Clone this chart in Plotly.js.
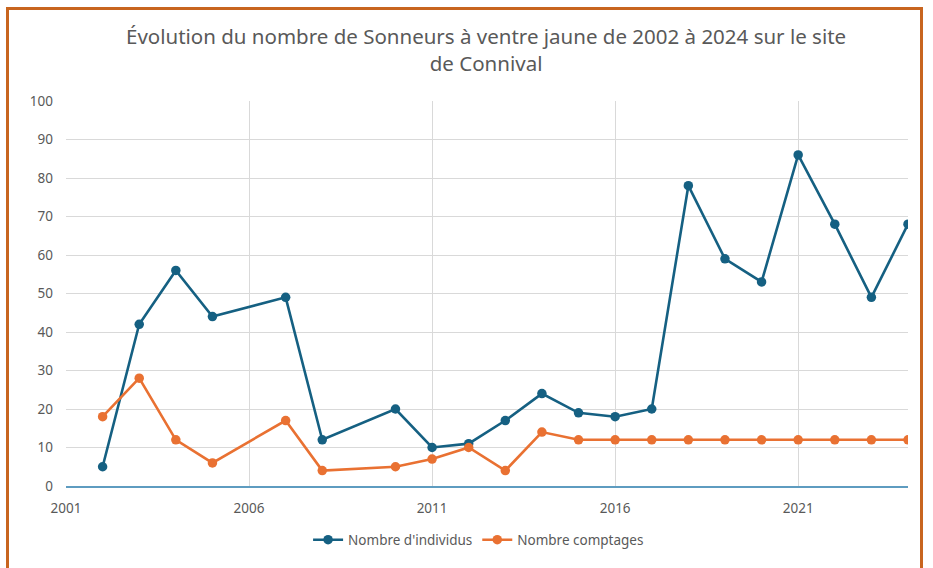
<!DOCTYPE html>
<html>
<head>
<meta charset="utf-8">
<script src="https://cdn.plot.ly/plotly-3.0.1.min.js"></script>
<style>
  html, body { margin: 0; padding: 0; background: #ffffff; }
  #wrap { position: relative; width: 933px; height: 568px; overflow: hidden; }
  #chart { position: absolute; left: 0; top: 0; width: 933px; height: 568px; }
  #frame { position: absolute; left: 6px; top: 7px; width: 917px; height: 600px;
           border: 3px solid #C8651F; pointer-events: none; box-sizing: border-box; }
</style>
</head>
<body>
<div id="wrap">
  <div id="chart"></div>
  <div id="frame"></div>
</div>
<script>
// Years of survey
const years = [2002, 2003, 2004, 2005, 2007, 2008, 2010, 2011, 2012, 2013, 2014,
               2015, 2016, 2017, 2018, 2019, 2020, 2021, 2022, 2023, 2024];
// Nombre d'individus
const individus = [5, 42, 56, 44, 49, 12, 20, 10, 11, 17, 24,
                   19, 18, 20, 78, 59, 53, 86, 68, 49, 68];
// Nombre comptages
const comptages = [18, 28, 12, 6, 17, 4, 5, 7, 10, 4, 14,
                   12, 12, 12, 12, 12, 12, 12, 12, 12, 12];
const seriesNames = ["Nombre d'individus", "Nombre comptages"];
const titleText = "Évolution du nombre de Sonneurs à ventre jaune de 2002 à 2024 sur le site<br>de Connival";

const blue = "#156082";
const orange = "#E97132";
const textGrey = "#595959";

const traces = [
  {
    x: years, y: individus, name: seriesNames[0], type: "scatter", mode: "lines+markers",
    line: { color: blue, width: 2.6 },
    marker: { color: blue, size: 9.5 }
  },
  {
    x: years, y: comptages, name: seriesNames[1], type: "scatter", mode: "lines+markers",
    line: { color: orange, width: 2.6 },
    marker: { color: orange, size: 9.5 }
  }
];

const layout = {
  width: 933, height: 568,
  paper_bgcolor: "#ffffff", plot_bgcolor: "#ffffff",
  margin: { l: 66, r: 25, t: 101, b: 82 },
  font: { family: "Noto Sans, Liberation Sans, sans-serif", color: textGrey, size: 13 },
  title: {
    text: titleText,
    font: { family: "Noto Sans, sans-serif", size: 20.5, color: textGrey },
    x: 0.521, xanchor: "center", y: 0.922, yanchor: "middle"
  },
  xaxis: {
    range: [2001, 2024], tick0: 2001, dtick: 5, tickmode: "linear",
    showgrid: true, gridcolor: "#D9D9D9", gridwidth: 1,
    zeroline: false, showline: true, linecolor: "#5E9CC0", linewidth: 1.5,
    ticks: "", ticklabelstandoff: 9,
    tickfont: { size: 13.5, color: textGrey }, fixedrange: true
  },
  yaxis: {
    range: [0, 100], tick0: 0, dtick: 10, tickmode: "linear",
    showgrid: true, gridcolor: "#D9D9D9", gridwidth: 1,
    zeroline: false, showline: false, ticks: "",
    ticklabelstandoff: 12,
    tickfont: { size: 13.5, color: textGrey }, fixedrange: true
  },
  showlegend: true,
  legend: {
    orientation: "h", x: 0.49, xanchor: "center", y: -0.14, yanchor: "middle",
    font: { size: 13.5, color: textGrey }, itemwidth: 30
  }
};

Plotly.newPlot("chart", traces, layout, { displayModeBar: false, staticPlot: true });
</script>
</body>
</html>
